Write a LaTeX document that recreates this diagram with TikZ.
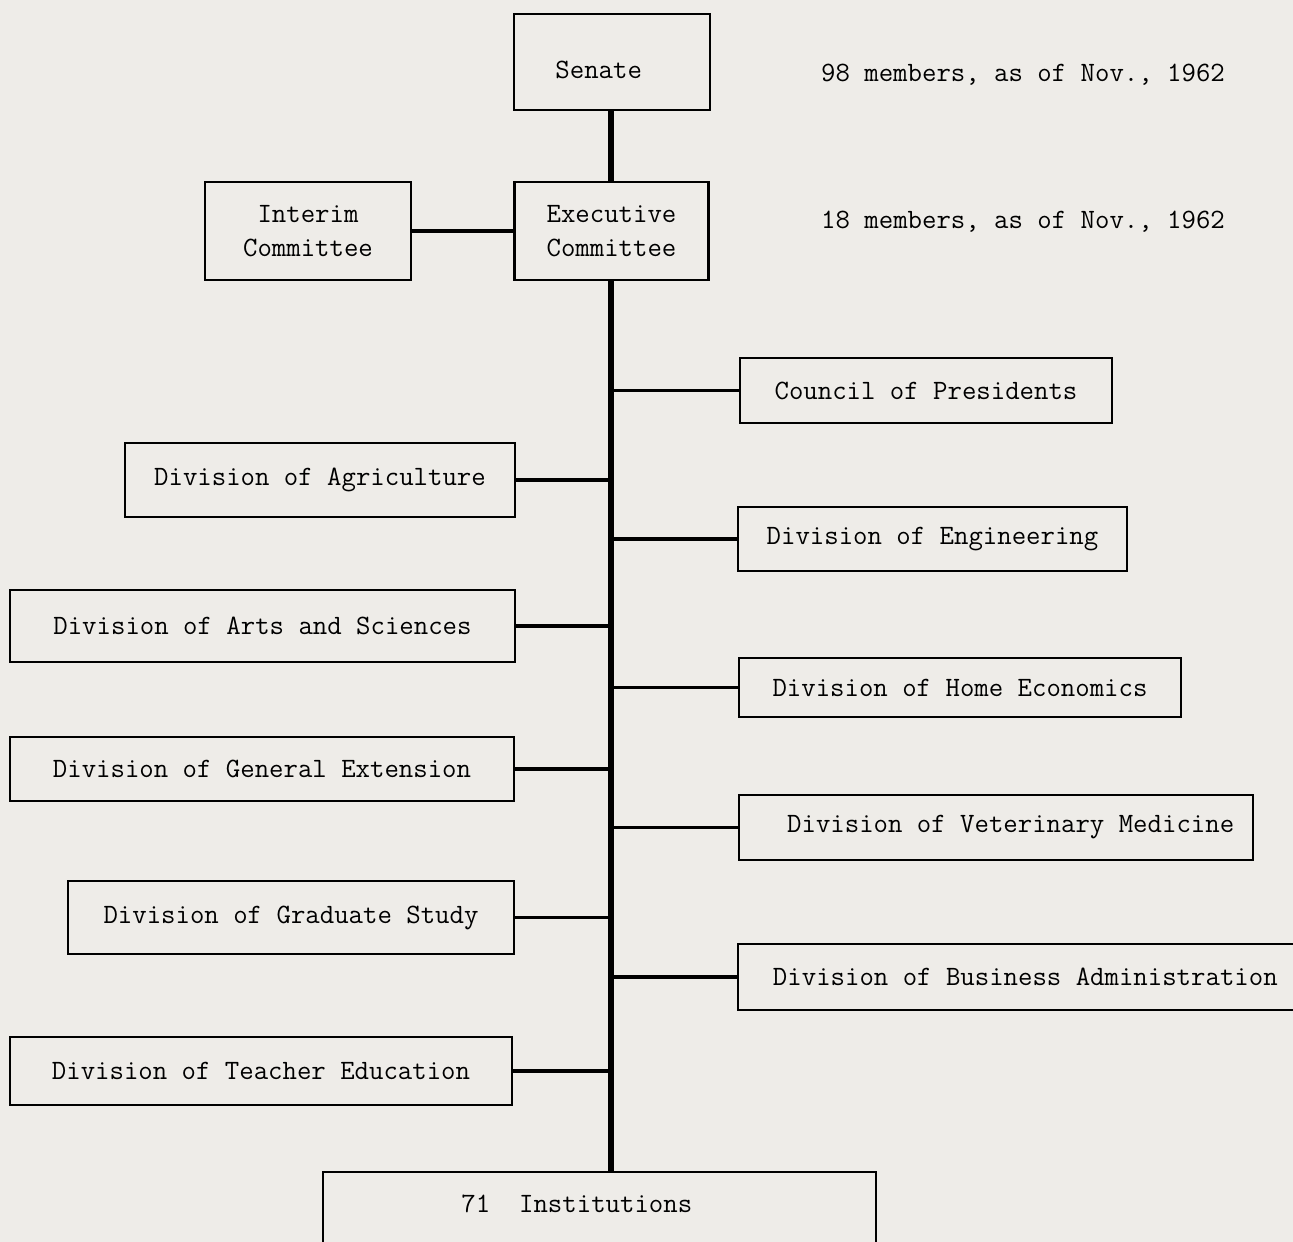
\documentclass[tikz,border=0pt]{standalone}
\usepackage{fontspec}
\tikzset{
  orgbox/.style={draw, line width=2.2pt, inner sep=0pt, align=center,
    font=\ttfamily\fontsize{21}{26}\selectfont},
  note/.style={inner sep=0pt, font=\ttfamily\fontsize{21}{26}\selectfont},
  link/.style={line width=2.6pt},
  spineline/.style={line width=3.8pt}
}
\begin{document}
\begin{tikzpicture}[x=0.75pt,y=0.75pt,yscale=-1,xscale=1]
%Shape: Background
\fill[fill={rgb,255:red,238;green,236;blue,232}] (0,0) rectangle (1293,1242);
\useasboundingbox (0,0) rectangle (1293,1242);

%Shape: Top boxes
\node[orgbox, minimum width=147pt, minimum height=72pt] (senate) at (612,62) {\raisebox{-6pt}[\height][\depth]{Senate}\hspace{20pt}};
\node[orgbox, minimum width=146pt, minimum height=73.5pt] (exec) at (611.5,231) {Executive\\Committee\hspace{10pt}};
\node[orgbox, minimum width=154.5pt, minimum height=73.5pt] (interim) at (308,231) {Interim\\Committee};

% Text Node
\node[note] (m98) at (1023,75) {98 members, as of Nov., 1962};
% Text Node
\node[note] (m18) at (1023,222) {18 members, as of Nov., 1962};

%Shape: Right divisions
\node[orgbox, minimum width=279pt, minimum height=48.75pt] (council) at (926,390.5) {Council of Presidents};
\node[orgbox, minimum width=291.75pt, minimum height=48pt] (engin) at (932.5,539) {Division of Engineering};
\node[orgbox, minimum width=331.5pt, minimum height=44.25pt] (home) at (960,687.5) {Division of Home Economics};
\node[orgbox, minimum width=385.5pt, minimum height=48.75pt] (vet) at (996,827.5) {\hspace{22pt}Division of Veterinary Medicine};
\node[orgbox, minimum width=423pt, minimum height=49.5pt] (bus) at (1020,977) {\hspace{8pt}Division of Business Administration};

%Shape: Left divisions
\node[orgbox, minimum width=292.5pt, minimum height=55.5pt] (agri) at (320,480) {Division of Agriculture};
\node[orgbox, minimum width=378.75pt, minimum height=54pt] (arts) at (262.5,626) {Division of Arts and Sciences};
\node[orgbox, minimum width=378pt, minimum height=48pt] (genext) at (262,769) {Division of General Extension};
\node[orgbox, minimum width=334.5pt, minimum height=54.75pt] (grad) at (291,917.5) {Division of Graduate Study};
\node[orgbox, minimum width=376.5pt, minimum height=51pt] (teach) at (261,1071) {Division of Teacher Education};

%Shape: Bottom box
\node[orgbox, minimum width=414.75pt, minimum height=57pt] (inst) at (599.5,1210) {\raisebox{10pt}{71\ \ Institutions}\hspace{34pt}};

%Straight Lines
\coordinate (spine) at (611,0);
\draw[spineline] (senate.south -| spine) -- (exec.north -| spine);
\draw[spineline] (exec.south -| spine) -- (inst.north -| spine);
\draw[link] (interim.east) -- (exec.west);
\draw[link] (council.west) -- (council.west -| spine);
\draw[link] (engin.west) -- (engin.west -| spine);
\draw[link] (home.west) -- (home.west -| spine);
\draw[link] (vet.west) -- (vet.west -| spine);
\draw[link] (bus.west) -- (bus.west -| spine);
\draw[link] (agri.east) -- (agri.east -| spine);
\draw[link] (arts.east) -- (arts.east -| spine);
\draw[link] (genext.east) -- (genext.east -| spine);
\draw[link] (grad.east) -- (grad.east -| spine);
\draw[link] (teach.east) -- (teach.east -| spine);

\end{tikzpicture}
\end{document}
